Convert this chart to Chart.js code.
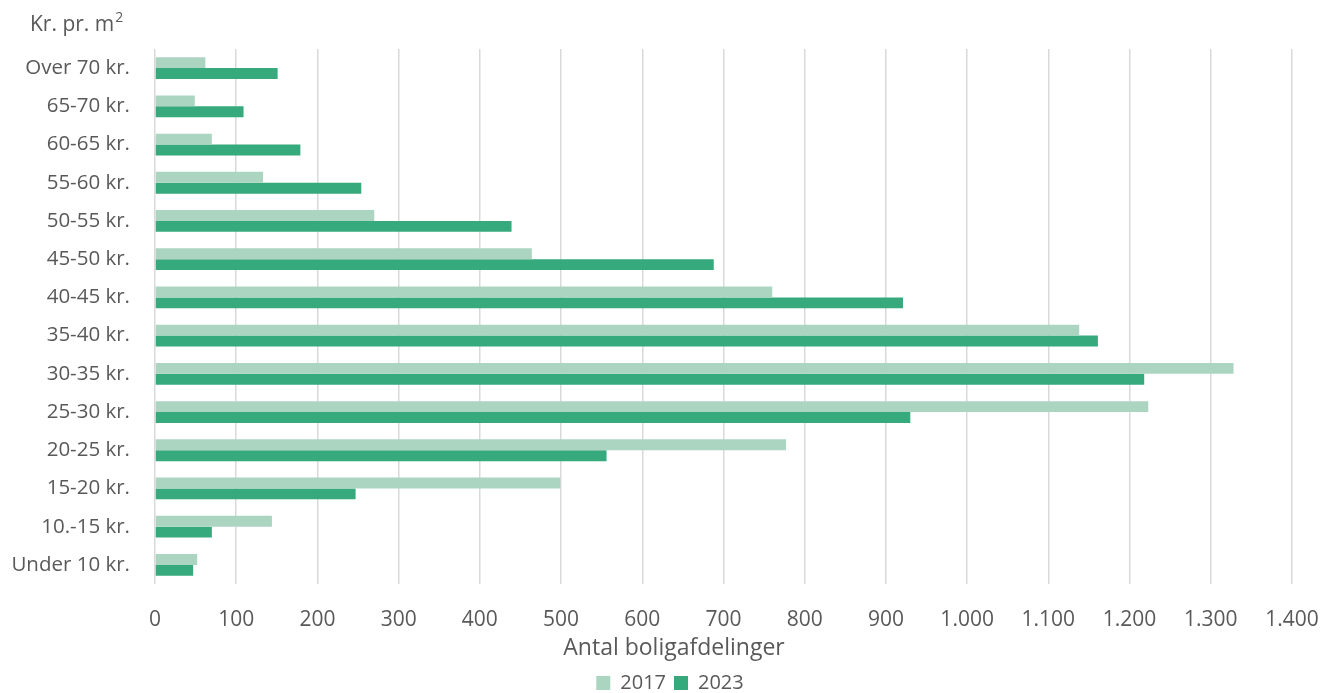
<!DOCTYPE html>
<html>
<head>
<meta charset="utf-8">
<script src="https://cdn.jsdelivr.net/npm/chart.js@4.4.1/dist/chart.umd.min.js"></script>
<style>
  html, body { margin: 0; padding: 0; background: #ffffff; }
  #wrap { width: 1322px; height: 693px; position: relative; }
</style>
</head>
<body>
<div id="wrap"><canvas id="c"></canvas></div>
<script>
const categories = ["Over 70 kr.", "65-70 kr.", "60-65 kr.", "55-60 kr.", "50-55 kr.", "45-50 kr.", "40-45 kr.", "35-40 kr.", "30-35 kr.", "25-30 kr.", "20-25 kr.", "15-20 kr.", "10.-15 kr.", "Under 10 kr."];
const values2017 = [62, 49, 70, 133, 270, 464, 760, 1138, 1328, 1223, 777, 499, 144, 52];
const values2023 = [151, 109, 179, 254, 439, 688, 921, 1161, 1218, 930, 556, 247, 70, 47];
const seriesNames = ["2017", "2023"];
const xTickStep = 100;
const xMax = 1400;
const yAxisLabel = "Kr. pr. m";
const yAxisLabelSup = "2";
const xAxisLabel = "Antal boligafdelinger";

const FONT = "'Open Sans', 'Liberation Sans', sans-serif";
const TXT = "#595959";

const textPlugin = {
  id: "textPlugin",
  afterLayout(chart) {
    // let the category labels use the space left of the axis box
    chart.scales.y.left = 0;
  },
  afterDraw(chart) {
    const ctx = chart.ctx;
    ctx.save();
    ctx.fillStyle = TXT;
    ctx.textBaseline = "middle";
    ctx.textAlign = "left";
    ctx.font = "21px " + FONT;
    ctx.fillText(yAxisLabel, 30, 25);
    const w = ctx.measureText(yAxisLabel).width;
    ctx.font = "14px " + FONT;
    ctx.fillText(yAxisLabelSup, 30 + w + 1, 18);
    // x-axis title, centred on the whole chart like the legend
    ctx.textAlign = "center";
    ctx.font = "23px " + FONT;
    ctx.fillText(xAxisLabel, chart.legend.left + chart.legend.width / 2 + 4, 648);
    ctx.restore();
  }
};

new Chart(document.getElementById("c"), {
  type: "bar",
  data: {
    labels: categories,
    datasets: [
      { label: seriesNames[0], data: values2017, backgroundColor: "#acd5c1", borderWidth: 0 },
      { label: seriesNames[1], data: values2023, backgroundColor: "#36a97d", borderWidth: 0 }
    ]
  },
  options: {
    indexAxis: "y",
    responsive: true,
    maintainAspectRatio: false,
    animation: false,
    layout: { padding: { top: 49, right: 0, left: 18, bottom: -10 } },
    datasets: { bar: { categoryPercentage: 0.57, barPercentage: 1.0 } },
    scales: {
      x: {
        min: 0, max: xMax,
        ticks: {
          stepSize: xTickStep,
          color: TXT,
          font: { family: FONT, size: 21 },
          padding: 23,
          maxRotation: 0, minRotation: 0, autoSkip: false,
          callback: (v) => v.toLocaleString("da-DK")
        },
        grid: { color: "#d9d9d9", lineWidth: 1.5, drawTicks: false },
        border: { display: false },
        title: { display: false },
        afterFit(scale) { scale.paddingRight = 30; scale.paddingLeft = 0; scale.height = 81; }
      },
      y: {
        ticks: { color: TXT, font: { family: FONT, size: 20.5 }, padding: 17 },
        grid: { display: false },
        border: { display: false },
        afterFit(scale) { scale.width = 137; }
      }
    },
    plugins: {
      legend: {
        position: "bottom",
        labels: { color: TXT, font: { family: FONT, size: 20 }, boxWidth: 14, boxHeight: 14, padding: 8 }
      },
      tooltip: { enabled: false }
    }
  },
  plugins: [textPlugin]
});
</script>
</body>
</html>
